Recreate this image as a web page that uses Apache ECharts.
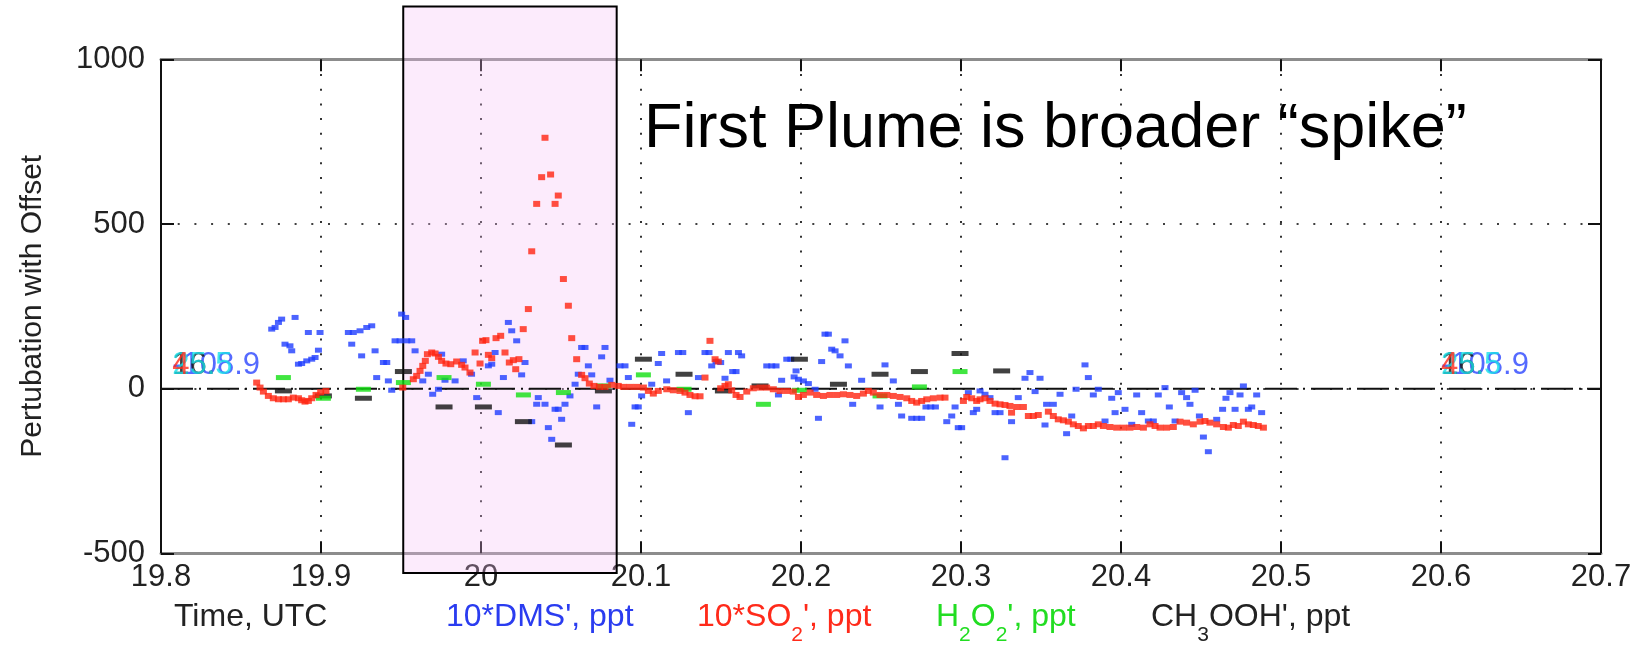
<!DOCTYPE html>
<html>
<head>
<meta charset="utf-8">
<script src="https://cdn.jsdelivr.net/npm/echarts@6/dist/echarts.min.js"></script>
<style>
  html, body { margin: 0; padding: 0; background: #fff; }
  #chart { width: 1640px; height: 645px; }
</style>
</head>
<body>
<div id="chart"></div>
<script>
// Axis ranges (time in UTC hours, perturbation values)
const timeRange = [19.8, 20.7];
const timeStep = 0.1;
const valueRange = [-500, 1000];
const valueStep = 500;

// Highlighted first-plume window: [start, end] in time, [bottom, top] in value
const plumeWindow = [19.9514, 20.0848];
const plumeSpan = [-560, 1160];

// 10*DMS' (ppt)
const dmsTime = [
  19.8692, 19.8713, 19.8734, 19.8754, 19.8775, 19.8806, 19.8817, 19.8838, 19.8859, 19.8879,
  19.8911, 19.8921, 19.8942, 19.8963, 19.8984, 19.8994, 19.9171, 19.9192, 19.9202, 19.9244,
  19.9254, 19.9286, 19.9317, 19.9338, 19.9348, 19.9390, 19.9411, 19.9421, 19.9442, 19.9463,
  19.9494, 19.9504, 19.9529, 19.9536, 19.9567, 19.9588, 19.9636, 19.9671, 19.9698, 19.9734,
  19.9754, 19.9775, 19.9838, 19.9889, 19.9941, 19.9973, 20.0046, 20.0067, 20.0088, 20.0108,
  20.0140, 20.0171, 20.0192, 20.0223, 20.0254, 20.0275, 20.0317, 20.0348, 20.0358, 20.0400,
  20.0421, 20.0442, 20.0463, 20.0483, 20.0504, 20.0525, 20.0556, 20.0588, 20.0608, 20.0629,
  20.0650, 20.0671, 20.0692, 20.0723, 20.0754, 20.0775, 20.0806, 20.0869, 20.0900, 20.0921,
  20.0942, 20.0963, 20.0983, 20.1004, 20.1067, 20.1108, 20.1129, 20.1160, 20.1234, 20.1261,
  20.1296, 20.1359, 20.1400, 20.1425, 20.1442, 20.1469, 20.1498, 20.1525, 20.1546, 20.1573,
  20.1594, 20.1609, 20.1629, 20.1786, 20.1817, 20.1844, 20.1859, 20.1879, 20.1911, 20.1936,
  20.1957, 20.1969, 20.1984, 20.2015, 20.2046, 20.2088, 20.2109, 20.2129, 20.2150, 20.2171,
  20.2192, 20.2213, 20.2244, 20.2275, 20.2296, 20.2323, 20.2379, 20.2494, 20.2525, 20.2577,
  20.2609, 20.2629, 20.2692, 20.2723, 20.2754, 20.2781, 20.2811, 20.2840, 20.2911, 20.2942,
  20.2963, 20.2983, 20.3004, 20.3046, 20.3077, 20.3098, 20.3119, 20.3150, 20.3181, 20.3213,
  20.3244, 20.3275, 20.3316, 20.3358, 20.3400, 20.3431, 20.3463, 20.3494, 20.3525, 20.3535,
  20.3577, 20.3619, 20.3660, 20.3692, 20.3719, 20.3775, 20.3796, 20.3827, 20.3858, 20.3900,
  20.3942, 20.3963, 20.3983, 20.4025, 20.4067, 20.4098, 20.4129, 20.4171, 20.4202, 20.4233,
  20.4275, 20.4302, 20.4338, 20.4379, 20.4410, 20.4431, 20.4463, 20.4490, 20.4515, 20.4546,
  20.4598, 20.4635, 20.4656, 20.4681, 20.4713, 20.4744, 20.4765, 20.4796, 20.4817, 20.4848,
  20.4879
];
const dmsValue = [
  180.7, 185.8, 201.0, 211.1, 135.0, 130.0, 114.8, 216.2, 74.2, 76.2,
  84.3, 170.5, 89.4, 94.5, 116.8, 170.5, 170.5, 135.0, 170.5, 175.6,
  99.5, 185.7, 190.8, 114.8, 33.6, 79.3, 79.3, 23.5, -4.9, 145.2,
  145.2, 226.3, 216.2, 145.2, 145.2, 114.8, 23.5, 43.8, -17.1, -1.9,
  104.6, 25.5, 23.5, 84.4, 43.8, -27.2, 69.2, 74.2, 109.7, -72.8,
  33.7, 201.0, 175.6, 145.2, 41.8, 79.3, -100.2, -47.4, -27.2, -47.4,
  -118.4, -153.9, -62.6, -62.6, -93.1, -47.4, -22.1, 13.4, 43.8, 125.0,
  125.0, 69.2, 41.8, -55.5, 96.5, 125.0, 25.6, 69.2, 69.2, 33.7,
  -108.3, -55.5, -55.5, -22.1, 13.4, 76.3, 106.7, 23.5, 109.6, 109.6,
  -72.9, 33.6, 109.6, 109.6, 69.0, 82.2, 79.2, 31.5, 109.6, 51.8,
  51.8, 109.6, 99.5, 69.0, 69.0, 69.0, -19.2, 25.4, 89.3, 89.3,
  35.6, 53.8, 28.5, 23.4, 15.3, -1.9, -90.1, 82.2, 165.4, 165.4,
  119.8, 114.7, 99.5, 145.1, 69.0, -47.6, 25.4, -55.7, 72.1, 23.4,
  -47.6, -83.1, -90.1, -90.1, -90.1, -55.7, -55.7, -55.7, -100.3, -83.1,
  -55.7, -118.5, -118.5, -12.1, -72.9, -62.8, -7.0, -17.1, -27.3, -72.9,
  -72.9, -209.8, -100.3, -27.3, 31.5, 48.8, -9.0, 31.5, -110.4, -47.6,
  -47.6, -17.1, -136.8, -83.1, -1.9, 72.1, 33.6, -19.2, -1.9, -98.3,
  -29.3, -72.9, -12.1, -62.8, -108.4, -19.2, -72.9, -98.3, -98.3, -19.2,
  3.1, -55.7, -98.3, -12.1, -27.3, -47.6, -5.0, -83.1, -147.0, -191.5,
  -93.2, -62.8, -29.3, -12.1, -62.8, -19.2, 8.2, -62.8, -55.7, -19.2,
  -72.9
];

// 10*SO2' (ppt)
const so2Time = [
  19.8598, 19.8619, 19.8640, 19.8671, 19.8702, 19.8734, 19.8765, 19.8796, 19.8827, 19.8859,
  19.8879, 19.8900, 19.8921, 19.8942, 19.8969, 19.8998, 19.9031, 19.9511, 19.9577, 19.9598,
  19.9619, 19.9636, 19.9652, 19.9665, 19.9692, 19.9713, 19.9734, 19.9754, 19.9781, 19.9811,
  19.9848, 19.9879, 19.9900, 19.9931, 19.9963, 19.9994, 20.0010, 20.0031, 20.0046, 20.0067,
  20.0094, 20.0123, 20.0150, 20.0177, 20.0202, 20.0217, 20.0237, 20.0264, 20.0296, 20.0317,
  20.0348, 20.0379, 20.0400, 20.0435, 20.0463, 20.0483, 20.0515, 20.0546, 20.0567, 20.0598,
  20.0629, 20.0650, 20.0677, 20.0706, 20.0740, 20.0775, 20.0817, 20.0858, 20.0890, 20.0931,
  20.0973, 20.1015, 20.1046, 20.1077, 20.1108, 20.1161, 20.1202, 20.1244, 20.1275, 20.1306,
  20.1338, 20.1369, 20.1400, 20.1431, 20.1463, 20.1483, 20.1498, 20.1525, 20.1546, 20.1567,
  20.1594, 20.1619, 20.1661, 20.1702, 20.1744, 20.1785, 20.1827, 20.1869, 20.1911, 20.1952,
  20.1984, 20.2015, 20.2057, 20.2098, 20.2140, 20.2181, 20.2223, 20.2265, 20.2306, 20.2348,
  20.2390, 20.2421, 20.2452, 20.2494, 20.2536, 20.2577, 20.2619, 20.2661, 20.2692, 20.2723,
  20.2754, 20.2786, 20.2827, 20.2869, 20.2900, 20.3015, 20.3036, 20.3067, 20.3098, 20.3119,
  20.3150, 20.3181, 20.3213, 20.3244, 20.3275, 20.3306, 20.3316, 20.3348, 20.3390, 20.3421,
  20.3452, 20.3483, 20.3546, 20.3577, 20.3608, 20.3640, 20.3671, 20.3702, 20.3733, 20.3765,
  20.3796, 20.3827, 20.3858, 20.3890, 20.3931, 20.3973, 20.4015, 20.4056, 20.4098, 20.4140,
  20.4181, 20.4213, 20.4244, 20.4285, 20.4327, 20.4369, 20.4410, 20.4452, 20.4494, 20.4525,
  20.4556, 20.4598, 20.4640, 20.4671, 20.4702, 20.4733, 20.4765, 20.4796, 20.4827, 20.4858,
  20.4890
];
const so2Value = [
  18.4, 3.2, -9.0, -22.1, -29.2, -32.3, -32.3, -32.3, -27.2, -29.2,
  -35.3, -39.4, -37.3, -29.2, -19.1, -11.0, -7.0, 3.2, 28.6, 38.7,
  53.9, 69.2, 84.3, 104.6, 109.7, 106.7, 96.5, 84.3, 76.2, 74.2,
  82.4, 72.2, 64.1, 48.9, 109.7, 76.3, 145.2, 147.2, 102.6, 92.5,
  153.3, 160.4, 109.7, 79.3, 86.4, 59.0, 89.5, 180.7, 241.6, 417.0,
  561.0, 642.1, 761.7, 650.2, 561.0, 586.3, 332.8, 251.7, 153.3, 89.4,
  41.8, 31.7, 15.4, 8.3, 5.3, 5.3, 11.4, 8.3, 5.3, 5.3,
  5.3, 3.3, -6.9, -15.0, -6.9, -1.9, -5.0, -7.0, -12.1, -19.2,
  -23.2, -23.2, 33.6, 145.1, 89.3, 82.2, 1.1, 8.2, 13.3, -5.0,
  -19.2, -25.3, -9.0, 1.1, 3.1, 3.1, -1.9, -7.0, -7.0, -9.0,
  -25.3, -19.2, -12.1, -19.2, -22.2, -19.2, -19.2, -17.1, -19.2, -22.2,
  -15.1, -7.0, -12.1, -19.2, -19.2, -22.2, -25.3, -29.3, -37.4, -42.5,
  -37.4, -32.4, -29.3, -27.3, -27.3, -37.4, -25.3, -29.3, -37.4, -32.4,
  -29.3, -37.4, -45.5, -47.6, -49.6, -52.6, -72.9, -55.7, -55.7, -83.1,
  -83.1, -80.0, -69.9, -83.1, -93.2, -96.2, -100.3, -108.4, -113.5, -120.6,
  -113.5, -113.5, -108.4, -113.5, -116.5, -118.5, -118.5, -118.5, -116.5, -118.5,
  -108.4, -113.5, -118.5, -118.5, -116.5, -100.3, -103.3, -108.4, -100.3, -98.3,
  -103.3, -108.4, -116.5, -118.5, -110.4, -113.5, -100.3, -108.4, -110.4, -113.5,
  -118.5
];

// H2O2' (ppt)
const h2o2Time = [
  19.8765, 19.9015, 19.9265, 19.9515, 19.9769, 20.0015, 20.0265, 20.0515, 20.0765, 20.1015,
  20.1269, 20.1765, 20.1990, 20.2494, 20.2740, 20.2994
];
const h2o2Value = [
  33.6, -29.2, -1.9, 18.4, 33.6, 13.4, -19.1, -11.9, 8.3, 41.8,
  -1.9, -47.6, -5.0, -22.2, 5.2, 51.8
];

// CH3OOH' (ppt)
const chTime = [
  19.8765, 19.9015, 19.9265, 19.9515, 19.9769, 20.0015, 20.0265, 20.0515, 20.0765, 20.1015,
  20.1269, 20.1515, 20.1744, 20.1990, 20.2234, 20.2494, 20.2740, 20.2994, 20.3254
];
const chValue = [
  -6.9, -22.1, -29.2, 51.9, -55.6, -55.6, -100.2, -171.1, -6.9, 89.4,
  43.7, -7.0, 8.2, 89.3, 13.3, 43.7, 51.8, 106.6, 53.8
];

// Offset annotations printed at both ends of the trace
const offsetLabelTimes = [19.807, 20.6];
const offsetLabelLevel = 70;
const offsetTexts = ['-108.9', '16.', '25.5', '4'];
const offsetColors = ['#2b45ff', '#111111', '#18e0e8', '#ff2a1a'];

const FONT = '"Liberation Sans", Arial, Helvetica, sans-serif';
const pair = (xs, ys) => xs.map((x, i) => [x, ys[i]]);

const chart = echarts.init(document.getElementById('chart'), null, { renderer: 'canvas' });

const dotted = (dash) => ({ show: true, lineStyle: { color: '#000', width: 1.6, type: dash } });

const offsetSeries = offsetTexts.map((txt, k) => ({
  type: 'scatter',
  z: 6,
  silent: true,
  symbolSize: 0,
  data: offsetLabelTimes.map(t => [t, offsetLabelLevel]),
  label: {
    show: true,
    position: 'right',
    distance: 0,
    formatter: () => txt,
    color: offsetColors[k],
    fontSize: 31,
    fontFamily: FONT
  }
}));

function richText(parts, color) {
  return {
    text: parts.map(p => '{' + p[0] + '|' + p[1] + '}').join(''),
    rich: {
      m: { fontSize: 32, fontFamily: FONT, fill: color },
      s: { fontSize: 21, fontFamily: FONT, fill: color, padding: [36, 0, 0, 0] }
    }
  };
}

function legendText(x, parts, color) {
  const r = richText(parts, color);
  return {
    type: 'text',
    x: x,
    y: 617,
    silent: true,
    style: Object.assign({ fill: color, fontSize: 32, fontFamily: FONT, align: 'left', verticalAlign: 'middle' }, r)
  };
}

const plainNumber = (v) => String(Math.round(v * 1000) / 1000);

const option = {
  animation: false,
  backgroundColor: '#fff',
  textStyle: { fontFamily: FONT },
  grid: { left: 161, right: 39, top: 59.3, bottom: 91.7, containLabel: false },
  xAxis: [
    {
      type: 'value', min: timeRange[0], max: timeRange[1], interval: timeStep,
      axisLine: { show: true, onZero: false, lineStyle: { color: '#8c8c8c', width: 3 } },
      axisTick: { show: true, inside: true, length: 12, lineStyle: { color: '#111', width: 2 } },
      axisLabel: { show: true, margin: 9, fontSize: 31, color: '#222', fontFamily: FONT, formatter: plainNumber },
      splitLine: dotted([2, 12.7])
    },
    {
      type: 'value', position: 'top', min: timeRange[0], max: timeRange[1], interval: timeStep,
      axisLine: { show: true, onZero: false, lineStyle: { color: '#8c8c8c', width: 3 } },
      axisTick: { show: true, inside: true, length: 12, lineStyle: { color: '#111', width: 2 } },
      axisLabel: { show: false },
      splitLine: { show: false }
    }
  ],
  yAxis: [
    {
      type: 'value', min: valueRange[0], max: valueRange[1], interval: valueStep,
      axisLine: { show: true, onZero: false, lineStyle: { color: '#111', width: 2 } },
      axisTick: { show: true, inside: true, length: 13, lineStyle: { color: '#111', width: 2 } },
      axisLabel: { show: true, margin: 16, fontSize: 31, color: '#222', fontFamily: FONT, padding: [0, 0, 7, 0], formatter: plainNumber },
      splitLine: dotted([2, 14.7]),
      name: 'Pertubation with Offset',
      nameLocation: 'middle',
      nameRotate: 90,
      nameGap: 113,
      nameTextStyle: { fontSize: 30, color: '#222', fontFamily: FONT }
    },
    {
      type: 'value', position: 'right', min: valueRange[0], max: valueRange[1], interval: valueStep,
      axisLine: { show: true, onZero: false, lineStyle: { color: '#111', width: 2 } },
      axisTick: { show: true, inside: true, length: 13, lineStyle: { color: '#111', width: 2 } },
      axisLabel: { show: false },
      splitLine: { show: false }
    }
  ],
  series: [
    {
      // shaded window around the first plume
      type: 'custom',
      z: 1,
      silent: true,
      clip: false,
      encode: { x: [0, 1], y: [2, 3] },
      data: [[plumeWindow[0], plumeWindow[1], plumeSpan[0], plumeSpan[1]]],
      renderItem: (params, api) => {
        const a = api.coord([api.value(0), api.value(3)]);
        const b = api.coord([api.value(1), api.value(2)]);
        return {
          type: 'rect',
          shape: { x: a[0], y: a[1], width: b[0] - a[0], height: b[1] - a[1] },
          style: { fill: 'rgba(245,190,245,0.3)', stroke: '#000', lineWidth: 2 }
        };
      }
    },
    {
      // zero reference
      type: 'line',
      z: 2,
      silent: true,
      symbol: 'none',
      data: [[timeRange[0], 0], [timeRange[1], 0]],
      lineStyle: { color: '#111', width: 2, type: [32, 6, 2, 6] }
    },
    {
      name: "10*DMS', ppt", type: 'scatter', z: 3, silent: true,
      symbol: 'rect', symbolSize: [7, 5],
      itemStyle: { color: '#1f3dff' },
      data: pair(dmsTime, dmsValue)
    },
    {
      name: "CH3OOH', ppt", type: 'scatter', z: 3, silent: true,
      symbol: 'rect', symbolSize: [17, 5],
      itemStyle: { color: '#111' },
      data: pair(chTime, chValue)
    },
    {
      name: "H2O2', ppt", type: 'scatter', z: 3, silent: true,
      symbol: 'rect', symbolSize: [15, 5],
      itemStyle: { color: '#12e012' },
      data: pair(h2o2Time, h2o2Value)
    },
    {
      name: "10*SO2', ppt", type: 'scatter', z: 4, silent: true,
      symbol: 'rect', symbolSize: [7, 6],
      itemStyle: { color: '#ff2410' },
      data: pair(so2Time, so2Value)
    }
  ].concat(offsetSeries),
  graphic: [
    {
      type: 'text', x: 644, y: 130, silent: true, z: 10,
      style: { text: 'First Plume is broader \u201Cspike\u201D', fontSize: 63, fontFamily: FONT, fill: '#000', align: 'left', verticalAlign: 'middle' }
    },
    legendText(174, [['m', 'Time, UTC']], '#222'),
    legendText(446, [['m', "10*DMS', ppt"]], '#2a3cf0'),
    legendText(697, [['m', '10*SO'], ['s', '2'], ['m', "', ppt"]], '#ff2a1a'),
    legendText(936, [['m', 'H'], ['s', '2'], ['m', 'O'], ['s', '2'], ['m', "', ppt"]], '#22dd22'),
    legendText(1151, [['m', 'CH'], ['s', '3'], ['m', "OOH', ppt"]], '#222')
  ]
};

chart.setOption(option);
</script>
</body>
</html>
